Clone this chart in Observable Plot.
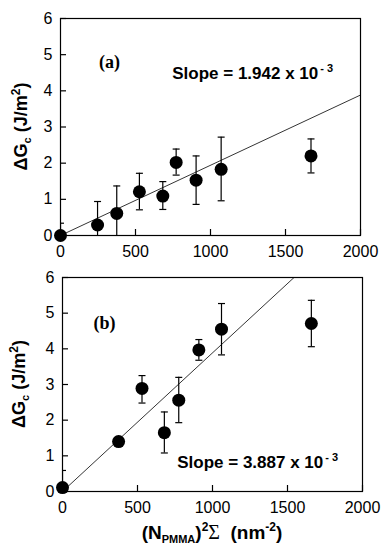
<!DOCTYPE html>
<html><head><meta charset="utf-8">
<script src="https://cdn.jsdelivr.net/npm/d3@7"></script>
<script src="https://cdn.jsdelivr.net/npm/@observablehq/plot@0.6"></script>
<style>
html,body{margin:0;padding:0;background:#fff;}
#chart{width:381px;}
#chart svg{display:block;}
</style></head><body><div id="chart"></div>
<script>
// shared axes
const xTicks = [0, 500, 1000, 1500, 2000];
const yTicks = [0, 1, 2, 3, 4, 5, 6];

// panel (a)
const xA   = [0, 247, 375, 526, 682, 771, 904, 1071, 1670];
const yA   = [0, 0.29, 0.61, 1.21, 1.09, 2.02, 1.53, 1.83, 2.20];
const hiA  = [0.34, 0.94, 1.37, 1.72, 1.49, 2.39, 2.20, 2.72, 2.67];
const loA  = [-0.34, -0.36, -0.15, 0.71, 0.72, 1.67, 0.86, 0.96, 1.73];
const slopeA = 1.942e-3;

// panel (b)
const xB   = [0, 374, 530, 679, 775, 909, 1060, 1659];
const yB   = [0.11, 1.40, 2.89, 1.65, 2.56, 3.97, 4.55, 4.71];
const hiB  = [0.59, 1.40, 3.25, 2.23, 3.20, 4.26, 5.27, 5.36];
const loB  = [-0.37, 1.40, 2.48, 1.08, 1.93, 3.68, 3.83, 4.06];
const slopeB = 3.887e-3;

const tags = ["(a)", "(b)"];
const slopeTexts = ["Slope = 1.942 x 10", "Slope = 3.887 x 10"];
const slopeExp = "- 3";

const SANS = "'Liberation Sans', Arial, Helvetica, sans-serif";
const SERIF = "'Liberation Serif', 'Times New Roman', serif";

const cap = {draw(ctx, size){ const r = Math.sqrt(size / Math.PI); ctx.moveTo(-r, 0); ctx.lineTo(r, 0); }};

function makePanel(c) {
  const pts = c.x.map((x, i) => ({x, y: c.y[i], lo: c.lo[i], hi: c.hi[i]}));
  const errs = pts.filter(d => d.hi > d.lo);
  const capPts = errs.flatMap(d => [{x: d.x, y: d.lo}, {x: d.x, y: d.hi}]);
  const fit = [{x: 0, y: 0}, {x: 2000, y: c.slope * 2000}];
  const svgEl = Plot.plot({
    width: 381, height: c.height,
    marginLeft: c.ml, marginRight: c.mr, marginTop: c.mt, marginBottom: c.mb,
    style: {fontFamily: SANS, fontSize: "16px", color: "black", background: "white"},
    x: {domain: [0, 2000]},
    y: {domain: [0, 6]},
    marks: [
      Plot.axisX(xTicks, {tickSize: -6, tickPadding: 16, label: null, tickFormat: d => String(d), strokeWidth: 1.2}),
      Plot.axisY(yTicks, {tickSize: -6, tickPadding: 14, label: null, tickFormat: d => String(d), strokeWidth: 1.2}),
      Plot.line(fit, {x: "x", y: "y", stroke: "black", strokeWidth: 0.8, clip: true}),
      Plot.ruleX(errs, {x: "x", y1: "lo", y2: "hi", stroke: "black", strokeWidth: 1.2, clip: true}),
      Plot.dot(capPts, {x: "x", y: "y", symbol: cap, r: 3.5, stroke: "black", strokeWidth: 1.2, clip: true}),
      Plot.dot(pts, {x: "x", y: "y", r: 6.5, fill: "black"}),
      Plot.frame({stroke: "black", strokeWidth: 1.2}),
      Plot.text([c.tag], {x: c.tagAt[0], y: c.tagAt[1], text: d => d, fontFamily: SERIF, fontWeight: "bold", fontSize: 18}),
      Plot.text([c.slopeText], {x: c.slopeAt[0], y: c.slopeAt[1], text: d => d, textAnchor: "start", fontFamily: SANS, fontWeight: "bold", fontSize: 17, className: "slope-label"})
    ]
  });
  const svg = d3.select(svgEl);
  // superscript exponent on slope
  svg.selectAll(".slope-label text").append("tspan")
    .attr("dx", 2).attr("dy", -7).attr("font-size", 11).text(slopeExp);
  // y title
  const cy = (c.mt + c.height - c.mb) / 2;
  const yt = svg.append("text")
    .attr("transform", `translate(${c.yTitleX},${cy}) rotate(-90)`)
    .attr("text-anchor", "middle").attr("font-family", SANS)
    .attr("font-weight", "bold").attr("font-size", 18).attr("fill", "black");
  yt.append("tspan").text("ΔG");
  yt.append("tspan").attr("font-size", 11).attr("dy", 4).text("c");
  yt.append("tspan").attr("dy", -4).text(" (J/m");
  yt.append("tspan").attr("font-size", 12).attr("dy", -7).text("2");
  yt.append("tspan").attr("dy", 7).text(")");
  if (c.xTitle) {
    const cx = (c.ml + 381 - c.mr) / 2;
    const xt = svg.append("text")
      .attr("x", cx).attr("y", c.height - 9)
      .attr("text-anchor", "middle").attr("font-family", SANS)
      .attr("font-weight", "bold").attr("font-size", 19).attr("fill", "black");
    xt.append("tspan").text("(N");
    xt.append("tspan").attr("font-size", 11).attr("dy", 4).text("PMMA");
    xt.append("tspan").attr("dy", -4).text(")");
    xt.append("tspan").attr("font-size", 12).attr("dy", -8).text("2");
    xt.append("tspan").attr("dy", 8).attr("font-family", SERIF).attr("font-weight", "normal").attr("font-size", 20).text("Σ");
    xt.append("tspan").text("\u00a0\u00a0(nm");
    xt.append("tspan").attr("font-size", 12).attr("dy", -8).text("-2");
    xt.append("tspan").attr("dy", 8).text(")");
  }
  return svgEl;
}

const root = document.getElementById("chart");
root.appendChild(makePanel({
  x: xA, y: yA, lo: loA, hi: hiA, slope: slopeA,
  height: 262, ml: 60, mr: 21, mt: 18, mb: 27,
  tag: tags[0], tagAt: [327, 4.79],
  slopeText: slopeTexts[0], slopeAt: [745, 4.49],
  yTitleX: 27, xTitle: false
}));
root.appendChild(makePanel({
  x: xB, y: yB, lo: loB, hi: hiB, slope: slopeB,
  height: 286, ml: 62, mr: 19, mt: 15, mb: 57,
  tag: tags[1], tagAt: [280, 4.73],
  slopeText: slopeTexts[1], slopeAt: [765, 0.80],
  yTitleX: 25, xTitle: true
}));
</script>
</body></html>
